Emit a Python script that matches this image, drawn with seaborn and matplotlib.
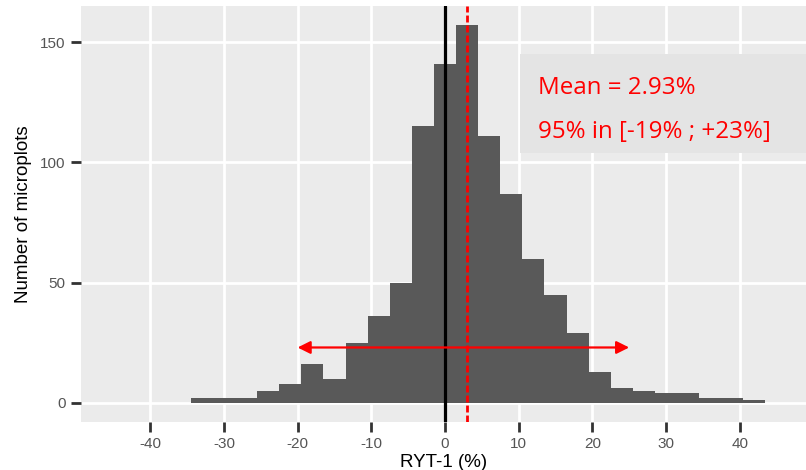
import matplotlib
matplotlib.use("Agg")
import matplotlib.pyplot as plt
import seaborn as sns
import numpy as np
from matplotlib.patches import Rectangle

# Data: histogram of RYT-1 (%) with bins of width 3, centred on multiples of 3
bin_centers = [-33, -30, -27, -24, -21, -18, -15, -12, -9, -6, -3, 0, 3, 6, 9,
               12, 15, 18, 21, 24, 27, 30, 33, 36, 39, 42]
counts = [2, 2, 2, 5, 8, 16, 10, 25, 36, 50, 115, 141, 157, 111, 87,
          60, 45, 29, 13, 6, 5, 4, 4, 2, 2, 1]
mean_value = 2.93
interval = [-20, 25]
arrow_y = 23
x_ticks = [-40, -30, -20, -10, 0, 10, 20, 30, 40]
y_ticks = [0, 50, 100, 150]
annot_lines = ["Mean = 2.93%", "95% in [-19% ; +23%]"]

sns.set_theme(style="darkgrid", rc={
    "axes.facecolor": "#EBEBEB",
    "grid.color": "white",
    "grid.linewidth": 2.0,
    "axes.edgecolor": "#EBEBEB",
})
plt.rcParams['font.family'] = ['Liberation Sans', 'DejaVu Sans']

fig = plt.figure(figsize=(8.06, 4.70), dpi=100)
ax = fig.add_axes([81 / 806, 1 - 421.5 / 470, 1 - 81 / 806, (421.5 - 6) / 470])

binwidth = 3
sns.histplot(x=bin_centers, weights=counts, binwidth=binwidth,
             binrange=(min(bin_centers) - binwidth / 2, max(bin_centers) + binwidth / 2),
             color="#595959", alpha=1, edgecolor="none", linewidth=0, ax=ax, zorder=2)

ax.set_xlim(-49.4, 49.0)
ax.set_ylim(-7.8, 165.1)
ax.set_xticks(x_ticks)
ax.set_yticks(y_ticks)
ax.set_xticklabels([str(t) for t in x_ticks])
ax.set_yticklabels([str(t) for t in y_ticks])
ax.tick_params(axis="both", which="major", length=7, width=2, color="#333333",
               labelsize=11, labelcolor="#555555", pad=4)
ax.tick_params(axis="x", bottom=True)
ax.tick_params(axis="y", left=True)
for s in ax.spines.values():
    s.set_visible(False)

ax.set_xlabel("RYT-1 (%)", fontsize=13.5, color="black", labelpad=2)
ax.set_ylabel("Number of microplots", fontsize=13.5, color="black", labelpad=6)

# Vertical lines
ax.axvline(0, color="black", linewidth=2.3, zorder=4)
ax.axvline(mean_value, color="red", linewidth=2.0, linestyle=(0, (2.5, 1.1)), zorder=4)

# Interval arrow
ax.annotate("", xy=(interval[0], arrow_y), xytext=(interval[1], arrow_y),
            arrowprops=dict(arrowstyle="<|-|>", color="red", lw=1.6,
                            mutation_scale=19, shrinkA=0, shrinkB=0),
            zorder=5)

# Annotation box
ax.add_patch(Rectangle((10.2, 104), 45, 41, facecolor="#E4E4E4", edgecolor="none",
                       zorder=1.5))
ax.text(12.6, 128.3, annot_lines[0], color="red", fontsize=17.4,
        family=["Open Sans", "DejaVu Sans"], ha="left", va="baseline", zorder=6)
ax.text(12.6, 110.0, annot_lines[1], color="red", fontsize=17.4,
        family=["Open Sans", "DejaVu Sans"], ha="left", va="baseline", zorder=6)

fig.savefig("out.png", dpi=100)
